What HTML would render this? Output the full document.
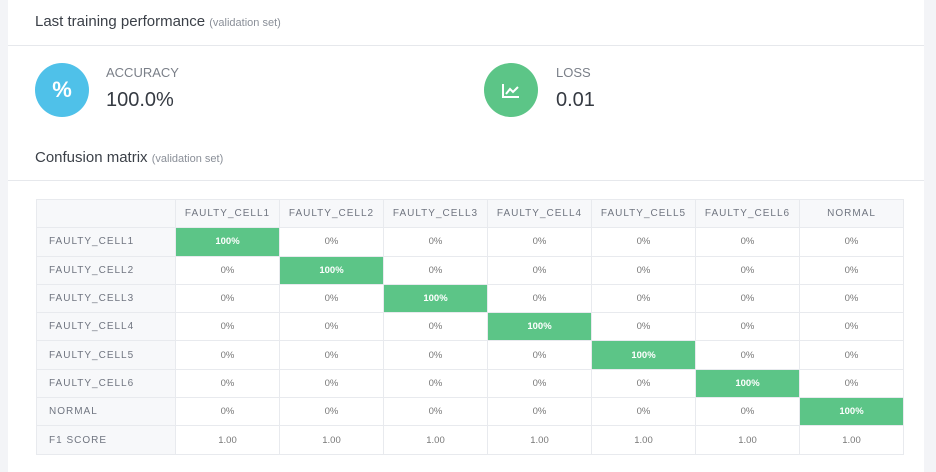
<!DOCTYPE html>
<html><head><style>
*{margin:0;padding:0;box-sizing:border-box}
body{width:936px;height:472px;background:#f3f4f7;font-family:"Liberation Sans",sans-serif;position:relative;overflow:hidden}
.card{position:absolute;left:8px;top:0;width:916px;height:472px;background:#fff}
.hr{position:absolute;left:8px;width:916px;height:1px;background:#e6e8ec}
.t{position:absolute;color:#3b4048;font-size:15px}
.t small{font-size:11px;color:#8a8f98}
.circ{position:absolute;width:54px;height:54px;border-radius:50%;color:#fff;text-align:center;line-height:54px;font-weight:bold;font-size:22px}
.lab{position:absolute;font-size:13px;color:#7a7f88}
.val{position:absolute;font-size:20px;color:#353a42}
table{position:absolute;left:36px;top:199px;border-collapse:collapse;font-size:9.5px;color:#777}
td{border:1px solid #e8eaee;width:104px;height:28.3px;text-align:center;padding:0}
td.h{background:#f7f8fa;letter-spacing:1px;color:#707580;font-size:10px}
td.r{width:139px;text-align:left;padding-left:12px;letter-spacing:1px;color:#707580;background:#f7f8fa;font-size:10px}
td.g{background:#5cc587;color:#fff;font-weight:bold}
</style></head><body>
<div class="card"></div>
<div class="t" style="left:35px;top:13px">Last training performance <small>(validation set)</small></div>
<div class="hr" style="top:45px"></div>
<div class="circ" style="left:35px;top:63px;background:#4fc1e9">%</div>
<div class="lab" style="left:106px;top:65px">ACCURACY</div>
<div class="val" style="left:106px;top:89px">100.0%</div>
<div class="circ" style="left:484px;top:63px;background:#5cc587"><svg width="20" height="16" viewBox="0 0 20 16" style="vertical-align:middle"><path d="M2 1V14H18" stroke="#fff" stroke-width="2" fill="none"/><path d="M5 11L9 6L12 9L17 4" stroke="#fff" stroke-width="2" fill="none"/></svg></div>
<div class="lab" style="left:556px;top:65px">LOSS</div>
<div class="val" style="left:556px;top:89px">0.01</div>
<div class="t" style="left:35px;top:149px">Confusion matrix <small>(validation set)</small></div>
<div class="hr" style="top:180px"></div>
<table>
<tr><td class="r"></td><td class="h">FAULTY_CELL1</td><td class="h">FAULTY_CELL2</td><td class="h">FAULTY_CELL3</td><td class="h">FAULTY_CELL4</td><td class="h">FAULTY_CELL5</td><td class="h">FAULTY_CELL6</td><td class="h">NORMAL</td></tr>
<tr><td class="r">FAULTY_CELL1</td><td class="g">100%</td><td>0%</td><td>0%</td><td>0%</td><td>0%</td><td>0%</td><td>0%</td></tr>
<tr><td class="r">FAULTY_CELL2</td><td>0%</td><td class="g">100%</td><td>0%</td><td>0%</td><td>0%</td><td>0%</td><td>0%</td></tr>
<tr><td class="r">FAULTY_CELL3</td><td>0%</td><td>0%</td><td class="g">100%</td><td>0%</td><td>0%</td><td>0%</td><td>0%</td></tr>
<tr><td class="r">FAULTY_CELL4</td><td>0%</td><td>0%</td><td>0%</td><td class="g">100%</td><td>0%</td><td>0%</td><td>0%</td></tr>
<tr><td class="r">FAULTY_CELL5</td><td>0%</td><td>0%</td><td>0%</td><td>0%</td><td class="g">100%</td><td>0%</td><td>0%</td></tr>
<tr><td class="r">FAULTY_CELL6</td><td>0%</td><td>0%</td><td>0%</td><td>0%</td><td>0%</td><td class="g">100%</td><td>0%</td></tr>
<tr><td class="r">NORMAL</td><td>0%</td><td>0%</td><td>0%</td><td>0%</td><td>0%</td><td>0%</td><td class="g">100%</td></tr>
<tr><td class="r">F1 SCORE</td><td>1.00</td><td>1.00</td><td>1.00</td><td>1.00</td><td>1.00</td><td>1.00</td><td>1.00</td></tr>
</table>
</body></html>
